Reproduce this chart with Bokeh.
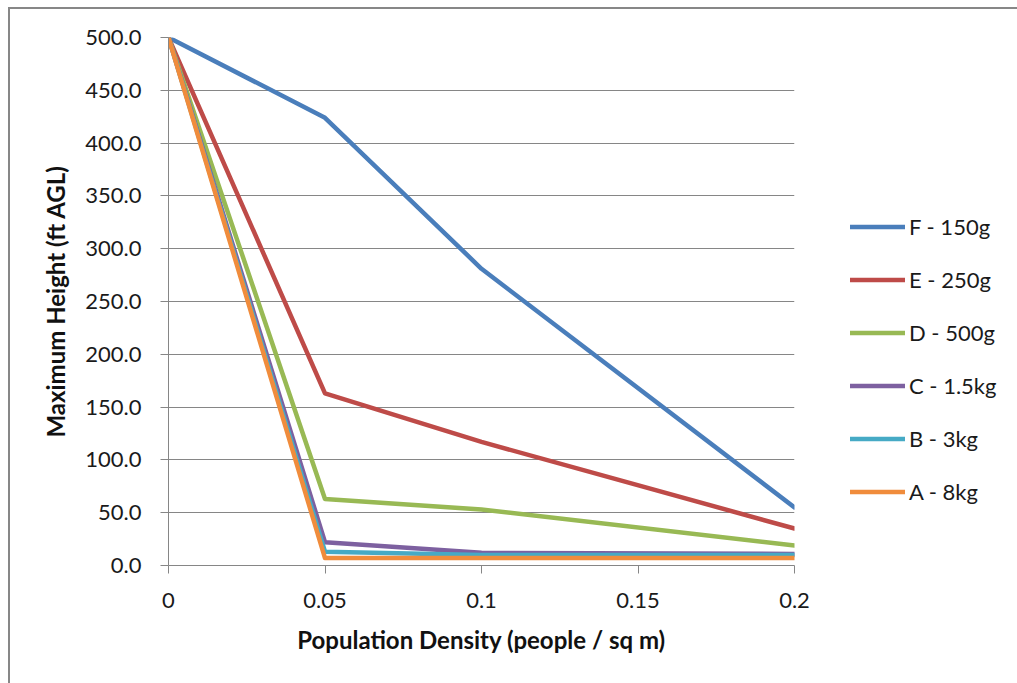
from bokeh.plotting import figure
from bokeh.models import (Legend, LegendItem, FixedTicker, NumeralTickFormatter, Range1d)
from bokeh.embed import file_html
from bokeh.resources import INLINE

density = [0, 0.05, 0.1, 0.2]
series_names = ["F - 150g", "E - 250g", "D - 500g", "C - 1.5kg", "B - 3kg", "A - 8kg"]
f_150g = [500, 424, 281, 55]
e_250g = [500, 163, 117, 35]
d_500g = [500, 63, 53, 19]
c_1_5kg = [500, 22, 12, 11]
b_3kg = [500, 13, 10, 10]
a_8kg = [500, 7, 7, 7]
series_values = [f_150g, e_250g, d_500g, c_1_5kg, b_3kg, a_8kg]
colors = ["#4A7EBB", "#BE4B48", "#98B954", "#7D60A0", "#46AAC5", "#F08C3C"]
x_ticks = [0, 0.05, 0.1, 0.15, 0.2]
x_tick_labels = ["0", "0.05", "0.1", "0.15", "0.2"]
y_ticks = list(range(0, 501, 50))

FONT = "Lato"
GRAY = "#868686"

p = figure(frame_width=626, frame_height=528, output_backend="svg", toolbar_location=None,
           x_range=Range1d(0, 0.2), y_range=Range1d(0, 500),
           min_border_left=158, min_border_top=28, min_border_right=10, min_border_bottom=118)
p.styles = {"margin-left": "8px", "margin-top": "7px",
            "border-left": "2px solid #878787", "border-top": "2px solid #878787"}
p.outline_line_color = None
p.background_fill_color = "white"
p.border_fill_color = "white"

items = []
for name, vals, col in zip(series_names, series_values, colors):
    r = p.line(density, vals, line_color=col, line_width=4.5, line_join="round", line_cap="round")
    items.append(LegendItem(label=name, renderers=[r]))

p.xgrid.grid_line_color = None
p.ygrid.grid_line_color = GRAY
p.ygrid.grid_line_width = 1
p.ygrid.ticker = FixedTicker(ticks=y_ticks)

p.yaxis.ticker = FixedTicker(ticks=y_ticks)
p.yaxis.formatter = NumeralTickFormatter(format="0.0")
p.xaxis.ticker = FixedTicker(ticks=x_ticks)
p.xaxis.major_label_overrides = {t: l for t, l in zip(x_ticks, x_tick_labels)}

for ax in (p.xaxis[0], p.yaxis[0]):
    ax.axis_line_color = GRAY
    ax.axis_line_width = 1
    ax.major_tick_line_color = GRAY
    ax.major_tick_in = 0
    ax.major_tick_out = 8
    ax.minor_tick_line_color = None
    ax.major_label_text_font = FONT
    ax.major_label_text_font_size = "22px"
    ax.major_label_text_color = "#1a1a1a"
    ax.axis_label_text_font = FONT
    ax.axis_label_text_font_size = "24px"
    ax.axis_label_text_font_style = "bold"
    ax.axis_label_text_color = "#111111"

p.xaxis.axis_label = "Population Density (people / sq m)"
p.yaxis.axis_label = "Maximum Height (ft AGL)"
p.yaxis.major_label_standoff = 19
p.xaxis.major_label_standoff = 19
p.yaxis.axis_label_standoff = 12
p.xaxis.axis_label_standoff = 14

legend = Legend(items=items, location=(56, 60), orientation="vertical",
                glyph_width=55, glyph_height=25, label_height=25, spacing=26,
                label_standoff=4, padding=0, margin=0,
                label_text_font=FONT, label_text_font_size="22px", label_text_color="#1a1a1a",
                border_line_color=None, background_fill_alpha=0)
p.add_layout(legend, "right")

open("out.html", "w").write(file_html(p, INLINE))
